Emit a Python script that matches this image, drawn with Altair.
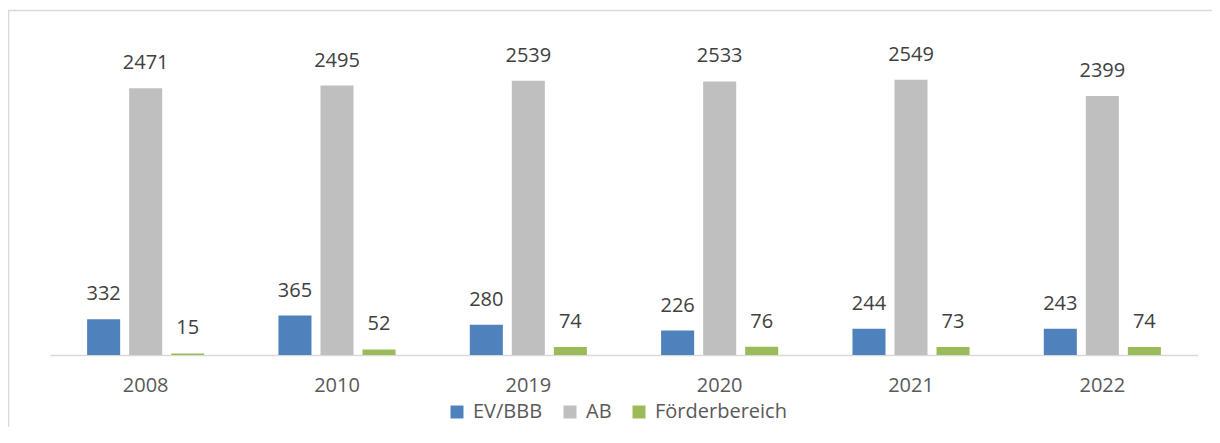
import altair as alt
import pandas as pd

years = ["2008", "2010", "2019", "2020", "2021", "2022"]
series = ["EV/BBB", "AB", "Förderbereich"]
ev_bbb = [332, 365, 280, 226, 244, 243]
ab = [2471, 2495, 2539, 2533, 2549, 2399]
foerder = [15, 52, 74, 76, 73, 74]
colors = ["#4F81BD", "#BFBFBF", "#9BBB59"]

rows = []
for i, yr in enumerate(years):
    for s, vals in zip(series, [ev_bbb, ab, foerder]):
        rows.append({"Jahr": yr, "Reihe": s, "Wert": vals[i]})
df = pd.DataFrame(rows)

W, H = 1148, 324
FONT = "Open Sans"

base = alt.Chart(df).encode(
    x=alt.X(
        "Jahr:N",
        sort=years,
        scale=alt.Scale(paddingInner=0.388, paddingOuter=0.194),
        axis=alt.Axis(
            title=None, labelAngle=0, ticks=False, grid=False,
            domainColor="#D9D9D9", domainWidth=1.5,
            labelFontSize=20, labelColor="#595959", labelFont=FONT,
            labelPadding=20,
        ),
    ),
    xOffset=alt.XOffset("Reihe:N", sort=series,
                        scale=alt.Scale(paddingInner=0.214, paddingOuter=0)),
    y=alt.Y("Wert:Q", scale=alt.Scale(domain=[0, 3000], nice=False), axis=None),
)

bars = base.mark_bar().encode(
    color=alt.Color(
        "Reihe:N",
        sort=series,
        scale=alt.Scale(domain=series, range=colors),
        legend=alt.Legend(
            title=None, orient="none", direction="horizontal",
            legendX=397, legendY=371,
            symbolType="square", symbolSize=169, symbolStrokeWidth=0,
            labelFont=FONT, labelFontSize=20, labelColor="#595959",
            labelOffset=6, columnPadding=17,
        ),
    )
)

labels = base.mark_text(
    dy=-19, baseline="alphabetic", fontSize=20, font=FONT, color="#404040"
).encode(text="Wert:Q")

border = alt.Chart(pd.DataFrame({"a": [0]})).mark_rect(
    fill="white", fillOpacity=0, stroke="#D9D9D9", strokeWidth=1.5
).encode(
    x=alt.value(-41.5), x2=alt.value(W + 60),
    y=alt.value(-20.5), y2=alt.value(H + 150),
)

chart = alt.layer(border, bars, labels).properties(
    width=W, height=H,
    padding={"left": 42, "top": 23, "right": 14, "bottom": 72},
    autosize=alt.AutoSizeParams(type="none"),
).configure_view(strokeWidth=0)

chart.save("out.html", embed_options={"renderer": "svg", "actions": False})
